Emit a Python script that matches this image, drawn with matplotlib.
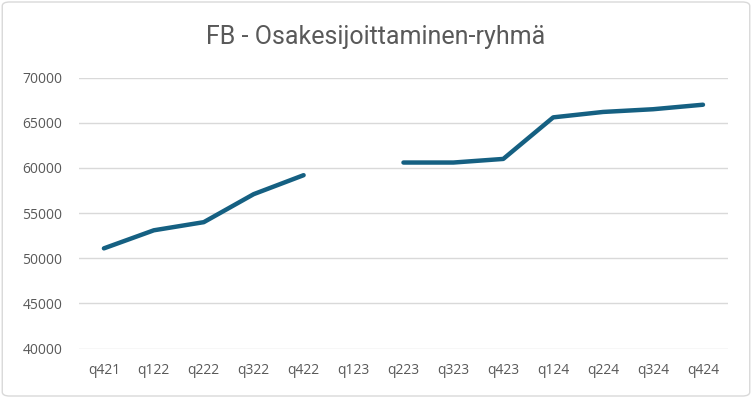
import matplotlib.pyplot as plt
import numpy as np
from matplotlib.patches import FancyBboxPatch

# Quarter labels and values (q123 missing)
quarters = ["q421", "q122", "q222", "q322", "q422", "q123", "q223",
            "q323", "q423", "q124", "q224", "q324", "q424"]
values = [51100, 53100, 54000, 57100, 59200, np.nan, 60600,
          60600, 61000, 65600, 66200, 66500, 67000]
y_ticks = [40000, 45000, 50000, 55000, 60000, 65000, 70000]

plt.rcParams['font.family'] = ['Open Sans', 'DejaVu Sans']

fig = plt.figure(figsize=(7.52, 3.98), dpi=100)
ax = fig.add_axes([0.105, 0.124, 0.863, 0.681])

# outer border of the chart
fig.patches.append(FancyBboxPatch((0.003, 0.005), 0.994, 0.99,
                                  boxstyle="round,pad=0,rounding_size=0.01",
                                  transform=fig.transFigure, fill=False,
                                  edgecolor="#d9d9d9", linewidth=1))

x = np.arange(len(quarters))
ax.plot(x, values, color="#156082", linewidth=3.2, solid_capstyle="round",
        solid_joinstyle="round")

ax.set_xlim(-0.5, len(quarters) - 0.5)
ax.set_ylim(40000, 70000)
ax.set_yticks(y_ticks)
ax.set_xticks(x)
ax.set_xticklabels(quarters)
ax.grid(axis="y", color="#d9d9d9", linewidth=1)
ax.set_axisbelow(True)
for s in ax.spines.values():
    s.set_visible(False)
ax.tick_params(length=0, colors="#595959", labelsize=10)
ax.tick_params(axis="y", pad=12)
ax.tick_params(axis="x", pad=10)

fig.text(0.5, 0.907, "FB - Osakesijoittaminen-ryhmä", ha="center", va="center",
         fontsize=18, color="#595959", family=["Roboto", "DejaVu Sans"])

fig.savefig("out.png", dpi=100)
